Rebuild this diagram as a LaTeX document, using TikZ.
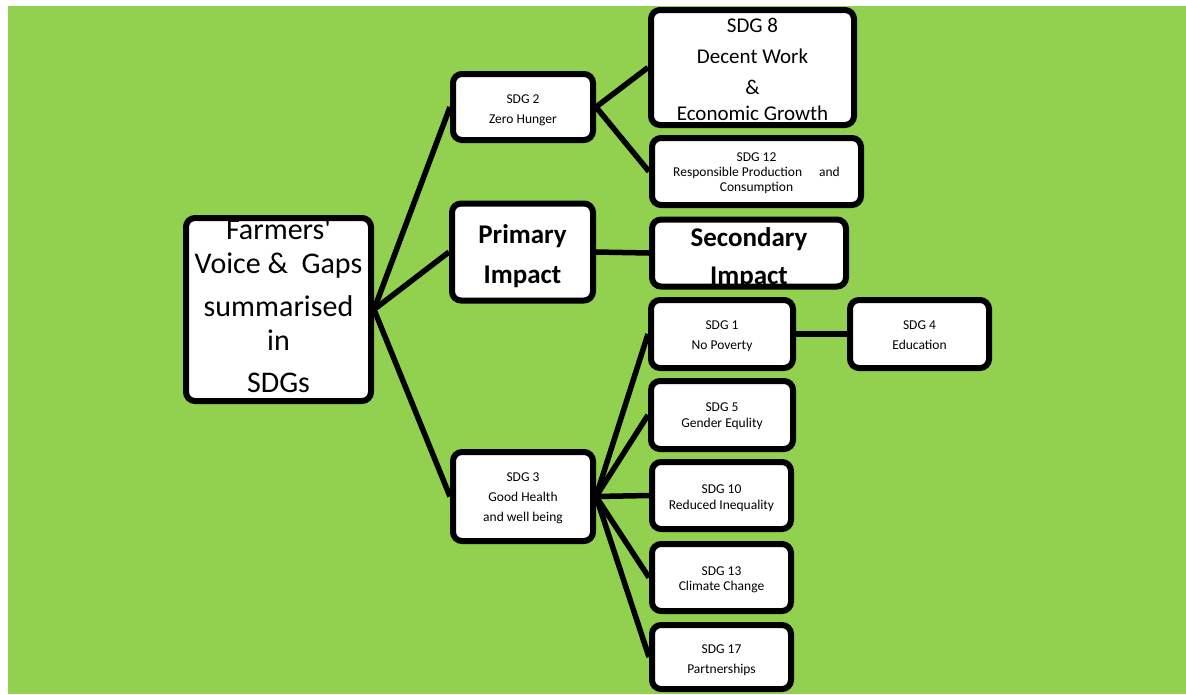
\documentclass[tikz,border=0pt]{standalone}
\usepackage{fontspec}
\setmainfont{Carlito}
\definecolor{leaf}{HTML}{92D050}
\begin{document}
\begin{tikzpicture}[x=1pt,y=-1pt,
  box/.style={draw=black, line width=6pt, rounded corners=9pt, fill=white, inner sep=0pt},
  link/.style={draw=black, line width=5.5pt},
  small/.style={font=\fontsize{13.5}{15}\selectfont, align=center, inner sep=0pt},
  mid/.style={font=\fontsize{21}{26}\selectfont, align=center, inner sep=0pt},
  big/.style={font=\fontsize{30}{34}\selectfont, align=center, inner sep=0pt},
  heavy/.style={font=\fontsize{27}{#1}\selectfont\bfseries, align=center, inner sep=0pt},
]
\useasboundingbox (0,0) rectangle (1186,694);
\fill[white] (0,0) rectangle (1186,694);
\fill[leaf] (8,6) rectangle (1186,694);

% root
\node[box, minimum width=185pt, minimum height=183pt, path picture={
  \node[big] (main-text) at ([shift={(0,-4)}]path picture bounding box.center)
    {Farmers\textquotesingle\\Voice \& \ Gaps\\[9pt]summarised\\in\\[8pt]SDGs};}]
  (main) at (278.5,309.5) {};

% first level
\node[box, minimum width=140pt, minimum height=66pt, path picture={
  \node[small] (sdg2-text) at ([shift={(0,3.4)}]path picture bounding box.center)
    {SDG 2\\[5pt]Zero Hunger};}]
  (sdg2) at (523,107) {};
\node[box, minimum width=141pt, minimum height=97pt, path picture={
  \node[heavy=40] (primary-text) at ([shift={(0,3.8)}]path picture bounding box.center)
    {Primary\\Impact};}]
  (primary) at (522.5,252) {};
\node[box, minimum width=140pt, minimum height=89pt, path picture={
  \node[small] (sdg3-text) at ([shift={(0,2)}]path picture bounding box.center)
    {SDG 3\\[5pt]Good Health\\[5pt]and well being};}]
  (sdg3) at (523,496.5) {};

% second level
\node[box, minimum width=203pt, minimum height=115pt, path picture={
  \node[mid] (sdg8-text) at ([shift={(0,2)}]path picture bounding box.center)
    {SDG 8\\[5pt]Decent Work\\[5pt]\&\\Economic Growth};}]
  (sdg8) at (752.5,67.5) {};
\node[box, minimum width=209pt, minimum height=67pt, path picture={
  \node[small] (sdg12-text) at ([shift={(0,2)}]path picture bounding box.center)
    {SDG 12\\Responsible Production\hspace*{17pt}and\\Consumption};}]
  (sdg12) at (756.5,171.5) {};
\node[box, minimum width=194pt, minimum height=67pt, path picture={
  \node[heavy=38] (secondary-text) at ([shift={(0,4.7)}]path picture bounding box.center)
    {Secondary\\Impact};}]
  (secondary) at (749,253) {};
\node[box, minimum width=142pt, minimum height=68pt, path picture={
  \node[small] (sdg1-text) at ([shift={(0,2.4)}]path picture bounding box.center)
    {SDG 1\\[5pt]No Poverty};}]
  (sdg1) at (722,334) {};
\node[box, minimum width=139pt, minimum height=68pt, path picture={
  \node[small] (sdg4-text) at ([shift={(0,1)}]path picture bounding box.center)
    {SDG 4\\[5pt]Education};}]
  (sdg4) at (919.5,334) {};
\node[box, minimum width=142pt, minimum height=68pt, path picture={
  \node[small] (sdg5-text) at ([shift={(0,1.4)}]path picture bounding box.center)
    {SDG 5\\[1pt]Gender Equlity};}]
  (sdg5) at (722,415) {};
\node[box, minimum width=139pt, minimum height=67pt, path picture={
  \node[small] (sdg10-text) at ([shift={(0,2.9)}]path picture bounding box.center)
    {SDG 10\\[1pt]Reduced Inequality};}]
  (sdg10) at (721.5,495.5) {};
\node[box, minimum width=139pt, minimum height=67pt, path picture={
  \node[small] (sdg13-text) at ([shift={(0,2.5)}]path picture bounding box.center)
    {SDG 13\\Climate Change};}]
  (sdg13) at (721.5,577.5) {};
\node[box, minimum width=139pt, minimum height=64pt, path picture={
  \node[small] (sdg17-text) at ([shift={(0,3.4)}]path picture bounding box.center)
    {SDG 17\\[5pt]Partnerships};}]
  (sdg17) at (721.5,657) {};

% connectors
\draw[link] (main.east) -- (sdg2.west);
\draw[link] (main.east) -- (primary.west);
\draw[link] (main.east) -- (sdg3.west);
\draw[link] (sdg2.east) -- (sdg8.west);
\draw[link] (sdg2.east) -- (sdg12.west);
\draw[link] (primary.east) -- (secondary.west);
\draw[link] (sdg1.east) -- (sdg4.west);
\foreach \t in {sdg1,sdg5,sdg10,sdg13,sdg17}
  \draw[link] (sdg3.east) -- (\t.west);
\end{tikzpicture}
\end{document}
